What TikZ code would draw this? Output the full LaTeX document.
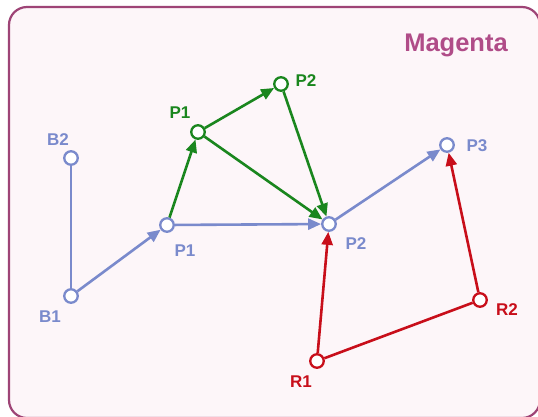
\documentclass[tikz,border=0pt]{standalone}
\usepackage{fontspec}
\setmainfont{Liberation Sans}
\usetikzlibrary{arrows.meta}
\definecolor{cblue}{RGB}{122,138,204}
\definecolor{cgreen}{RGB}{26,134,30}
\definecolor{cred}{RGB}{200,14,26}
\definecolor{cmag}{RGB}{176,76,136}
\definecolor{cframe}{RGB}{158,68,118}
\definecolor{cbg}{RGB}{253,246,249}
\tikzset{
  pt/.style={circle,draw=#1,fill=white,line width=2.3pt,minimum size=13.5pt,inner sep=0pt},
  lbl/.style={text=#1,font=\fontsize{17}{19}\selectfont\bfseries,inner sep=0pt},
  edge/.style={draw=#1,line width=2.6pt},
  arr/.style={draw=#1,fill=#1,line width=2.6pt,-{Triangle[length=13pt,width=11pt]}}
}
\begin{document}
\begin{tikzpicture}[x=1pt,y=-1pt]
\path[use as bounding box,fill=white] (0,0) rectangle (538,416);
\begin{scope}
\clip (0,0) rectangle (538,416);
\draw[cframe,fill=cbg,line width=2.2pt,rounded corners=18pt] (9,7) rectangle (540,418);
\end{scope}
\node[text=cmag,font=\fontsize{25.5}{28}\selectfont\bfseries,inner sep=0pt] (title) at (456,45) {Magenta};
% nodes
\node[pt=cblue] (B2) at (71,158) {};
\node[pt=cblue] (B1) at (71,296) {};
\node[pt=cblue] (P1) at (167,225) {};
\node[pt=cblue] (P2) at (329,224) {};
\node[pt=cblue] (P3) at (447,145) {};
\node[pt=cgreen] (G1) at (198,132) {};
\node[pt=cgreen] (G2) at (281,84) {};
\node[pt=cred] (R1) at (317,361) {};
\node[pt=cred] (R2) at (480,300) {};
% labels
\node[lbl=cblue] (lB2) at (58,140) {B2};
\node[lbl=cblue] (lB1) at (50,317) {B1};
\node[lbl=cblue] (lP1) at (185,251) {P1};
\node[lbl=cblue] (lP2) at (356,244) {P2};
\node[lbl=cblue] (lP3) at (477,146) {P3};
\node[lbl=cgreen] (lG1) at (180,113) {P1};
\node[lbl=cgreen] (lG2) at (306,81) {P2};
\node[lbl=cred] (lR1) at (301,382) {R1};
\node[lbl=cred] (lR2) at (507,310) {R2};
% edges
\draw[edge=cblue] (B2) -- (B1);
\draw[arr=cblue] (B1) -- (P1);
\draw[arr=cblue] (P1) -- (P2);
\draw[arr=cblue] (P2) -- (P3);
\draw[arr=cgreen] (P1) -- (G1);
\draw[arr=cgreen] (G1) -- (G2);
\draw[arr=cgreen] (G1) -- (P2);
\draw[arr=cgreen] (G2) -- (P2);
\draw[arr=cred] (R1) -- (P2);
\draw[edge=cred] (R1) -- (R2);
\draw[arr=cred] (R2) -- (P3);
\end{tikzpicture}
\end{document}
